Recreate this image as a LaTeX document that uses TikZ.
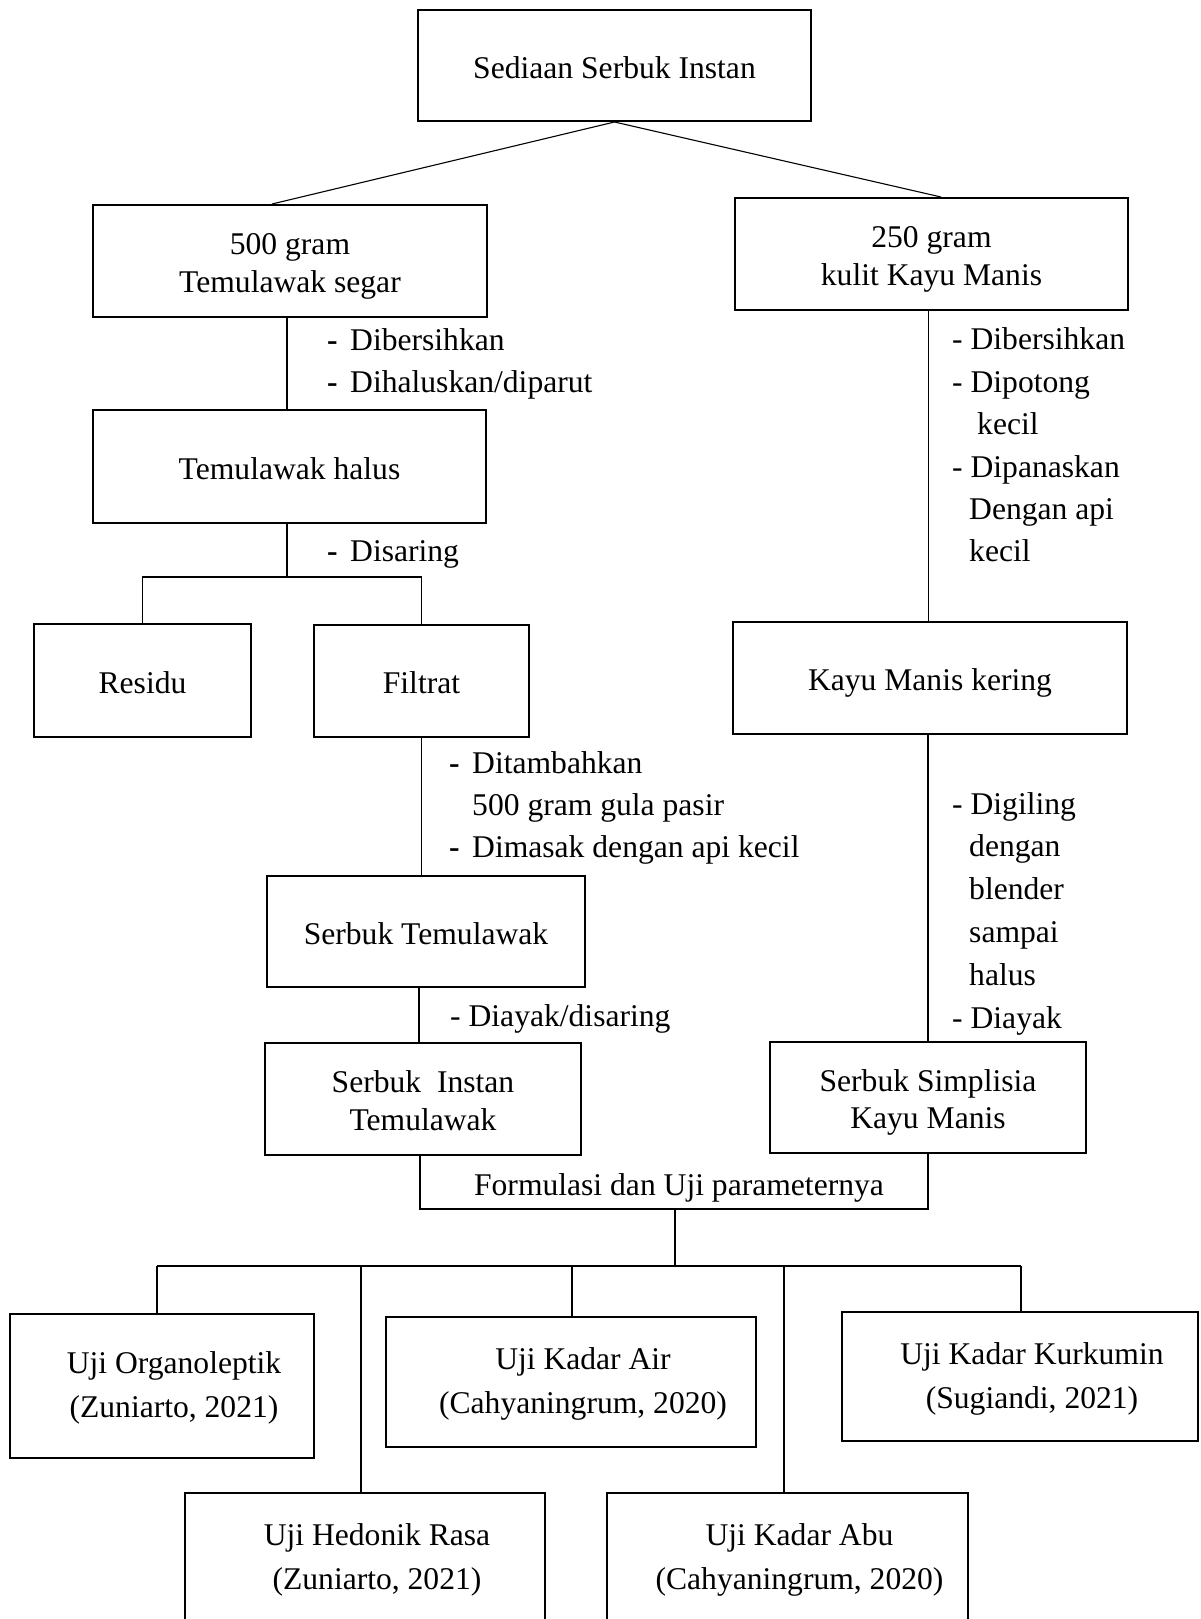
\documentclass[tikz,border=0pt]{standalone}
\usepackage{fontspec}
\setmainfont{Liberation Serif}
\usetikzlibrary{calc}
\newcommand\dsh{\makebox[23pt][l]{\textbf{-}}}
\newcommand\shiftR{\hspace*{24pt}}
\newcommand\hs{\rule{0pt}{32pt}}
\newcommand\ds{\rule[-7pt]{0pt}{7pt}}
\newcommand\hsl{\rule{0pt}{26pt}}
\begin{document}
\begin{tikzpicture}[x=1pt,y=-1pt,
  box/.style={draw, line width=2pt, rectangle, inner sep=0pt, align=center,
    font=\fontsize{31.6}{37.5}\selectfont},
  lowbox/.style={box, font=\fontsize{31.6}{44}\selectfont},
  ln/.style={line width=1.1pt},
  note/.style={inner sep=0pt, align=left, anchor=west,
    font=\fontsize{31.6}{42.4}\selectfont},
  note2/.style={note, font=\fontsize{31.6}{42.8}\selectfont}]
\clip (0,0) rectangle (1200,1619);
\fill[white] (0,0) rectangle (1200,1619);
% boxes
\node[box, minimum width=393pt, minimum height=111pt] (top) at (614.5,65.5) {\hs Sediaan Serbuk Instan\ds};
\node[box, minimum width=394pt, minimum height=112pt] (tsegar) at (290,261) {\hs 500 gram\\Temulawak segar\ds};
\node[box, minimum width=393pt, minimum height=112pt] (kulit) at (931.5,254) {\hs 250 gram\\kulit Kayu Manis\ds};
\node[box, minimum width=393pt, minimum height=113pt] (halus) at (289.5,466.5) {\hs Temulawak halus\ds};
\node[box, minimum width=217pt, minimum height=113pt] (residu) at (142.5,680.5) {\hs Residu\ds};
\node[box, minimum width=215pt, minimum height=112pt] (filtrat) at (421.5,681) {\hs Filtrat\ds};
\node[box, minimum width=394pt, minimum height=112pt] (kering) at (930,678) {\hs Kayu Manis kering\ds};
\node[box, minimum width=318pt, minimum height=111pt] (stemu) at (426,931.5) {\hs Serbuk Temulawak\ds};
\node[box, minimum width=316pt, minimum height=112pt] (sinstan) at (423,1099) {\hs Serbuk\ \ Instan\\Temulawak\ds};
\node[box, minimum width=316pt, minimum height=111pt] (simpl) at (928,1097.5) {\hs Serbuk Simplisia\\Kayu Manis\ds};
\node[lowbox, minimum width=304pt, minimum height=144pt] (organo) at (162,1386) {\hsl\shiftR Uji Organoleptik\\\shiftR(Zuniarto, 2021)\ds};
\node[lowbox, minimum width=370pt, minimum height=130pt] (air) at (571,1382) {\hsl\shiftR Uji Kadar Air\\\shiftR(Cahyaningrum, 2020)\ds};
\node[lowbox, minimum width=356pt, minimum height=129pt] (kurk) at (1020,1376.5) {\hsl\shiftR Uji Kadar Kurkumin\\\shiftR(Sugiandi, 2021)\ds};
\node[lowbox, minimum width=360pt, minimum height=130pt] (hedonik) at (365,1558) {\hsl\shiftR Uji Hedonik Rasa\\\shiftR(Zuniarto, 2021)\ds};
\node[lowbox, minimum width=361pt, minimum height=130pt] (abu) at (787.5,1558) {\hsl\shiftR Uji Kadar Abu\\\shiftR(Cahyaningrum, 2020)\ds};
% labels
\node[note] (n1) at (327,364) {\dsh Dibersihkan\\\dsh Dihaluskan/diparut};
\node[note] (n2) at (952,445) {- Dibersihkan\\- Dipotong\\\hspace*{25pt}kecil\\- Dipanaskan\\\hspace*{17pt}Dengan api\\\hspace*{17pt}kecil};
\node[note] (n3) at (327,554) {\dsh Disaring};
\node[note] (n4) at (449,808) {\dsh Ditambahkan\\\hspace*{23pt}500 gram gula pasir\\\dsh Dimasak dengan api kecil};
\node[note] (n5) at (450,1019) {- Diayak/disaring};
\node[note2] (n6) at (952,913.5) {- Digiling\\\hspace*{17pt}dengan\\\hspace*{17pt}blender\\\hspace*{17pt}sampai\\\hspace*{17pt}halus\\- Diayak};
\node[inner sep=0pt, font=\fontsize{31.6}{38}\selectfont] (form) at (679,1188) {Formulasi dan Uji parameternya};
% coordinates
\coordinate (split) at (287,577);
\coordinate (join) at (675,1209);
\coordinate (hub) at (675,1266);
\coordinate (b1) at (157,1266);
\coordinate (b2) at (361,1266);
\coordinate (b3) at (572,1266);
\coordinate (b4) at (784,1266);
\coordinate (b5) at (1021,1266);
% connectors
\draw[ln] (top.south) -- ([xshift=-18pt]tsegar.north);
\draw[ln] (top.south) -- ([xshift=9.5pt]kulit.north);
\draw[ln] ([xshift=-3pt]tsegar.south) -- ([xshift=-3pt]tsegar.south |- halus.north);
\draw[ln] (halus.south -| split) -- (split);
\draw[ln] (residu.north) -- (residu.north |- split) -- (filtrat.north |- split) -- (filtrat.north);
\draw[ln] (filtrat.south) -- (filtrat.south |- stemu.north);
\draw[ln] ([xshift=-4pt]sinstan.north) -- ([xshift=-4pt]sinstan.north |- stemu.south);
\draw[ln] ([xshift=-3pt]kulit.south) -- ([xshift=-3pt]kulit.south |- kering.north);
\draw[ln] ([xshift=-2pt]kering.south) -- ([xshift=-2pt]kering.south |- simpl.north);
\draw[ln] ([xshift=-3pt]sinstan.south) -- ([xshift=-3pt]sinstan.south |- join) -- (simpl.south |- join) -- (simpl.south);
\draw[ln] (join) -- (hub);
\draw[ln] (b1) -- (b5);
\draw[ln] (b1) -- (b1 |- organo.north);
\draw[ln] (b2) -- (b2 |- hedonik.north);
\draw[ln] (b3) -- (b3 |- air.north);
\draw[ln] (b4) -- (b4 |- abu.north);
\draw[ln] (b5) -- (b5 |- kurk.north);
\end{tikzpicture}
\end{document}
